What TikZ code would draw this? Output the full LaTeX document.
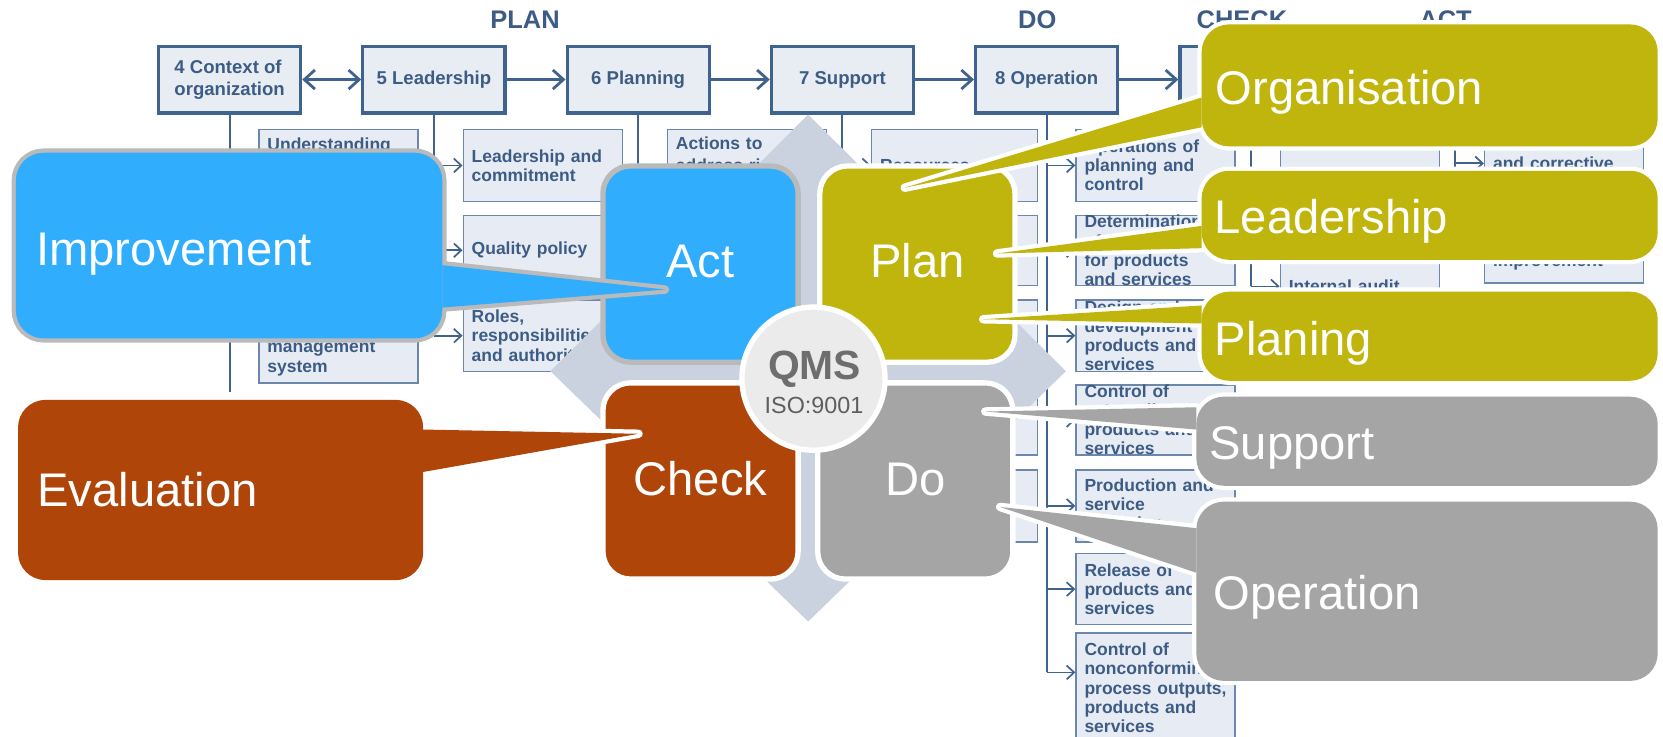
\documentclass[tikz,border=0pt]{standalone}
\usepackage{fontspec}
\setmainfont{Liberation Sans}
\usetikzlibrary{arrows.meta}

\definecolor{actblue}{HTML}{31ADFE}
\definecolor{planolive}{HTML}{BFB50D}
\definecolor{checkrust}{HTML}{B0450A}
\definecolor{dogrey}{HTML}{A5A5A5}
\definecolor{improvline}{HTML}{BABABA}
\definecolor{diamondgrey}{HTML}{CAD2DF}
\definecolor{qmsfill}{HTML}{EBEBEB}
\definecolor{qmstext}{HTML}{6E6E6E}
\definecolor{hdrline}{HTML}{3F628F}
\definecolor{hdrfill}{HTML}{E8EDF4}
\definecolor{subline}{HTML}{6B87AB}
\definecolor{subfill}{HTML}{E7ECF4}
\definecolor{flowtext}{HTML}{3D5C85}

% speech bubble: fill, outline, box, tail
\newcommand{\callshape}[4]{%
  \path[draw=#2, line width=8pt, rounded corners=26pt] #3;
  \path[draw=#2, line width=8pt, line join=round] #4;
  \fill[#1, rounded corners=26pt] #3;
  \fill[#1] #4;
}

\begin{document}
\begin{tikzpicture}[x=1pt, y=-1pt,
  hdrbox/.style={draw=hdrline, fill=hdrfill, line width=3pt, minimum width=134pt, minimum height=63pt, align=left, text=flowtext, inner sep=2pt, font=\fontsize{17.5}{20.5}\selectfont\bfseries},
  subbox/.style={draw=subline, fill=subfill, line width=1.3pt, anchor=west, text width=134pt, inner xsep=8pt, inner ysep=0pt, align=left, text=flowtext, font=\fontsize{16.5}{18}\selectfont\bfseries},
  hdrarrow/.style={draw=hdrline, line width=2.6pt, >={Straight Barb[length=10pt,width=18pt]}},
  subarrow/.style={draw=hdrline, line width=1.6pt, >={Straight Barb[length=7pt,width=13pt]}},
  vline/.style={draw=hdrline, line width=2pt},
  stagetitle/.style={anchor=base, text=flowtext, inner sep=0pt, font=\fontsize{24}{26}\selectfont\bfseries},
  quad/.style={rectangle, rounded corners=26pt, minimum width=184pt, minimum height=185pt, draw=white, line width=5pt, inner sep=0pt},
  quadtext/.style={anchor=base, text=white, inner sep=0pt, font=\fontsize{44.5}{50}\selectfont},
  calltext/.style={anchor=base west, text=white, inner sep=0pt, font=\fontsize{44.5}{50}\selectfont}]

\useasboundingbox (0,0) rectangle (1568,694);
\fill[white] (0,0) rectangle (1568,694);

% flowchart behind
\node[stagetitle] (plantitle) at (495,27) {PLAN};
\node[stagetitle] (dotitle) at (978,27) {DO};
\node[stagetitle] (checktitle) at (1171,27) {CHECK};
\node[stagetitle] (acttitle) at (1363,27) {ACT};

\node[hdrbox] (c4) at (216.5,75) {4 Context of\\organization};
\node[hdrbox] (c5) at (409.1,75) {5 Leadership};
\node[hdrbox] (c6) at (601.7,75) {6 Planning};
\node[hdrbox] (c7) at (794.3,75) {7 Support};
\node[hdrbox] (c8) at (986.9,75) {8 Operation};
\node[hdrbox] (c9) at (1179.5,75) {};
\node[hdrbox] (c10) at (1372.1,75) {};

\draw[hdrarrow, <->] (c4) -- (c5);
\draw[hdrarrow, ->] (c5) -- (c6);
\draw[hdrarrow, ->] (c6) -- (c7);
\draw[hdrarrow, ->] (c7) -- (c8);
\draw[hdrarrow, ->] (c8) -- (c9);

\node[subbox, minimum height=64pt] (s4a) at (243.5,154) {Understanding\\the organization\\and its context};
\node[subbox, minimum height=65pt] (s4b) at (243.5,328.5) {Quality\\management\\system};

\node[subbox, minimum height=68pt] (s5a) at (436.1,156) {Leadership and\\commitment};
\node[subbox, minimum height=66pt] (s5b) at (436.1,236) {Quality policy};
\node[subbox, minimum height=67pt] (s5c) at (436.1,316.5) {Roles,\\responsibilities\\and authorities};

\node[subbox, minimum height=68pt, font=\fontsize{16.5}{21}\selectfont\bfseries] (s6a) at (628.7,156) {Actions to\\address risks\\and};

\node[subbox, text width=140pt, minimum height=68pt] (s7a) at (821.3,156) {Resources};
\node[subbox, text width=140pt, minimum height=66pt] (s7b) at (821.3,236) {};
\node[subbox, text width=140pt, minimum height=67pt] (s7c) at (821.3,316.5) {};
\node[subbox, text width=140pt, minimum height=66pt] (s7d) at (821.3,396) {};
\node[subbox, text width=140pt, minimum height=68pt] (s7e) at (821.3,477) {};

\node[subbox, minimum height=68pt] (s8a) at (1013.9,156) {Operations of\\planning and\\control};
\node[subbox, minimum height=66pt] (s8b) at (1013.9,236) {Determination\\of requirements\\for products\\and services};
\node[subbox, minimum height=67pt] (s8c) at (1013.9,316.5) {Design and\\development of\\products and\\services};
\node[subbox, minimum height=66pt] (s8d) at (1013.9,396) {Control of\\externally\\products and\\services};
\node[subbox, minimum height=68pt] (s8e) at (1013.9,477) {Production and\\service\\provision};
\node[subbox, minimum height=67pt] (s8f) at (1013.9,555.5) {Release of\\products and\\services};
\node[subbox, minimum height=103pt] (s8g) at (1013.9,648.5) {Control of\\nonconforming\\process outputs,\\products and\\services};

\node[subbox, minimum height=100pt] (s9a) at (1206.5,172) {};
\node[subbox, minimum height=70pt] (s9b) at (1206.5,270) {Internal audit};

\node[subbox, minimum height=68pt, font=\fontsize{16.5}{22}\selectfont\bfseries] (s10a) at (1399.1,154) {Nonconformity\\and corrective\\action};
\node[subbox, minimum height=58pt] (s10b) at (1399.1,238) {Continual\\improvement};

\coordinate (e4) at (216.5,370);
\coordinate (e8) at (986.9,634);
\draw[vline] (c4.south) -- (e4);
\draw[vline] (c5.south) -- (c5.south |- s5c.west);
\draw[vline] (c6.south) -- (c6.south |- s6a.west);
\draw[vline] (c7.south) -- (c7.south |- s7e.west);
\draw[vline] (c8.south) -- (e8);
\draw[vline] (c9.south) -- (c9.south |- s9b.west);
\draw[vline] (c10.south) -- (c10.south |- s10b.west);

\foreach \b in {s5a,s5b,s5c}
  \draw[subarrow, ->] (c5.south |- \b.west) -- (\b.west);
\foreach \b in {s7a,s7b,s7c,s7d,s7e}
  \draw[subarrow, ->] (c7.south |- \b.west) -- (\b.west);
\foreach \b in {s8a,s8b,s8c,s8d,s8e,s8f}
  \draw[subarrow, ->] (c8.south |- \b.west) -- (\b.west);
\draw[subarrow, ->] (e8) -- (s8g.west |- e8);
\foreach \b in {s9a,s9b}
  \draw[subarrow, ->] (c9.south |- \b.west) -- (\b.west);
\foreach \b in {s10a,s10b}
  \draw[subarrow, ->] (c10.south |- \b.west) -- (\b.west);

% PDCA cross
\fill[diamondgrey] (762,108) -- (1005,350) -- (762,586) -- (519,350) -- cycle;

\node[quad, fill=actblue, draw=improvline] (act) at (660.5,249) {};
\node[quad, fill=planolive] (plan) at (865,249) {};
\node[quad, fill=checkrust] (check) at (660.5,453.5) {};
\node[quad, fill=dogrey] (do) at (863,453.5) {};
\node[quadtext] (acttext) at (660.5,262) {Act};
\node[quadtext] (plantext) at (865,262) {Plan};
\node[quadtext] (checktext) at (660.5,467.5) {Check};
\node[quadtext] (dotext) at (863,467.5) {Do};

\node[circle, fill=qmsfill, draw=white, line width=5pt, minimum size=135pt, inner sep=0pt] (qms) at (767,357) {};
\node[anchor=base, inner sep=0pt, text=qmstext, font=\fontsize{38.5}{40}\selectfont\bfseries] (qmstitle) at (768,358) {QMS};
\node[anchor=base, inner sep=0pt, text=qmstext!85!black, font=\fontsize{22}{24}\selectfont] (qmsiso) at (767.5,389.5) {ISO:9001};

% callouts
\callshape{actblue}{improvline}{(15,144) rectangle (417,319)}{(417,250) -- (627,273) -- (417,290) -- cycle}
\callshape{checkrust}{white}{(17,377) rectangle (399,547)}{(399,405) -- (602,409) -- (399,445) -- cycle}
\callshape{planolive}{white}{(1133,23) rectangle (1563,138)}{(1133,92) -- (853,177) -- (1133,120) -- cycle}
\callshape{planolive}{white}{(1133,161) rectangle (1563,245)}{(1133,213) -- (940,239) -- (1133,234) -- cycle}
\callshape{planolive}{white}{(1133,275) rectangle (1563,359)}{(1133,288) -- (927,301) -- (1133,305) -- cycle}
\callshape{dogrey}{white}{(1128,374) rectangle (1563,458)}{(1128,384) -- (929,388) -- (1128,405) -- cycle}
\callshape{dogrey}{white}{(1128,473) rectangle (1563,642)}{(1128,498) -- (943,478) -- (1128,540) -- cycle}

\node[calltext] (improvement) at (34,250) {Improvement};
\node[calltext] (evaluation) at (35,478) {Evaluation};
\node[calltext] (organisation) at (1146,98.5) {Organisation};
\node[calltext] (leadership) at (1145,220) {Leadership};
\node[calltext] (planing) at (1145,335) {Planing};
\node[calltext] (support) at (1140,433) {Support};
\node[calltext] (operation) at (1144,574.5) {Operation};
\end{tikzpicture}
\end{document}
